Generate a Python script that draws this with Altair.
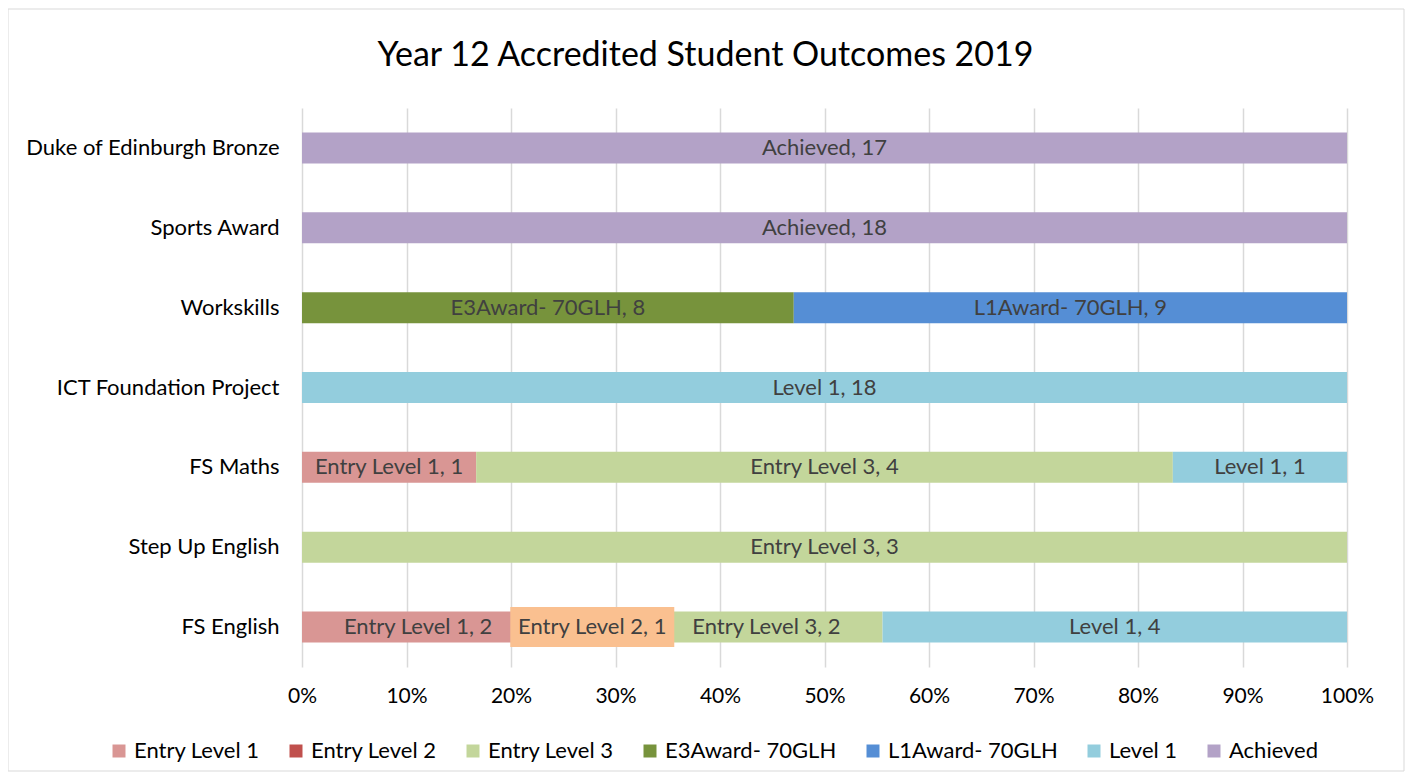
import altair as alt
import pandas as pd

programs = ["Duke of Edinburgh Bronze", "Sports Award", "Workskills",
            "ICT Foundation Project", "FS Maths", "Step Up English", "FS English"]
outcomes = ["Entry Level 1", "Entry Level 2", "Entry Level 3",
            "E3Award- 70GLH", "L1Award- 70GLH", "Level 1", "Achieved"]
colors = ["#D99694", "#C0504D", "#C3D69B", "#77933C", "#558ED5", "#93CDDD", "#B3A2C7"]

row_program = ["Duke of Edinburgh Bronze", "Sports Award", "Workskills", "Workskills",
               "ICT Foundation Project", "FS Maths", "FS Maths", "FS Maths",
               "Step Up English", "FS English", "FS English", "FS English", "FS English"]
row_outcome = ["Achieved", "Achieved", "E3Award- 70GLH", "L1Award- 70GLH",
               "Level 1", "Entry Level 1", "Entry Level 3", "Level 1",
               "Entry Level 3", "Entry Level 1", "Entry Level 2", "Entry Level 3", "Level 1"]
row_count = [17, 18, 8, 9, 18, 1, 4, 1, 3, 2, 1, 2, 4]

df = pd.DataFrame({"program": row_program, "outcome": row_outcome, "count": row_count})
df["order"] = df["outcome"].map({o: i for i, o in enumerate(outcomes)})

FONT = "Lato"

base = (
    alt.Chart(df)
    .transform_joinaggregate(total="sum(count)", groupby=["program"])
    .transform_calculate(pct="datum.count / datum.total")
    .transform_window(cum="sum(pct)", groupby=["program"],
                      sort=[alt.SortField("order")], frame=[None, 0])
    .transform_calculate(start="datum.cum - datum.pct",
                         mid="datum.cum - datum.pct / 2",
                         label="datum.outcome + ', ' + datum.count")
)

yenc = alt.Y("program:N", sort=programs, title=None,
             scale=alt.Scale(paddingInner=0, paddingOuter=0),
             axis=alt.Axis(domain=False, ticks=False, grid=False, labelPadding=23,
                           labelLimit=400, labelFont=FONT, labelFontSize=22,
                           labelColor="#000000"))

bars = base.mark_bar(size=31).encode(
    y=yenc,
    x=alt.X("start:Q", title=None,
            scale=alt.Scale(domain=[0, 1], nice=False),
            axis=alt.Axis(format=".0%", values=[i / 10 for i in range(11)],
                          domain=False, ticks=False, grid=True, gridColor="#D9D9D9",
                          gridWidth=1.5, labelPadding=18, labelFlush=False,
                          labelFont=FONT, labelFontSize=21, labelColor="#000000")),
    x2="cum:Q",
    color=alt.Color("outcome:N", scale=alt.Scale(domain=outcomes, range=colors),
                    sort=outcomes,
                    legend=alt.Legend(title=None, orient="none", direction="horizontal",
                                      legendX=-194, legendY=632,
                                      symbolType="square", symbolSize=169,
                                      symbolStrokeWidth=0, symbolOpacity=1,
                                      labelFont=FONT, labelFontSize=22, labelColor="#000000",
                                      labelLimit=300, labelOffset=4, columnPadding=25)),
)

label_bg = base.transform_filter("datum.outcome == 'Entry Level 2'").mark_point(
    shape="M-4.1,-1H4.1V1H-4.1Z", filled=True, size=1600, color="#FAC090", opacity=1
).encode(y=alt.Y("program:N", sort=programs), x="mid:Q")

labels = base.mark_text(font=FONT, fontSize=22, color="#404040").encode(
    y=alt.Y("program:N", sort=programs), x="mid:Q", text="label:N"
)

frame = alt.Chart(pd.DataFrame({"a": [0]})).mark_rect(
    filled=False, stroke="#D9D9D9", strokeWidth=1
).encode(x=alt.value(-294), x2=alt.value(1102), y=alt.value(-99), y2=alt.value(663))

chart = (
    alt.layer(frame, bars, label_bg, labels)
    .properties(
        width=1045, height=559,
        title=alt.TitleParams("Year 12 Accredited Student Outcomes 2019",
                              font=FONT, fontSize=34, fontWeight="normal",
                              color="#000000", offset=-64, dx=-119),
        autosize=alt.AutoSizeParams(type="none"),
        padding={"left": 294, "top": 100, "right": 58, "bottom": 105},
    )
    .configure_view(stroke=None)
)

chart.save("out.html", embed_options={"renderer": "svg", "actions": False})
